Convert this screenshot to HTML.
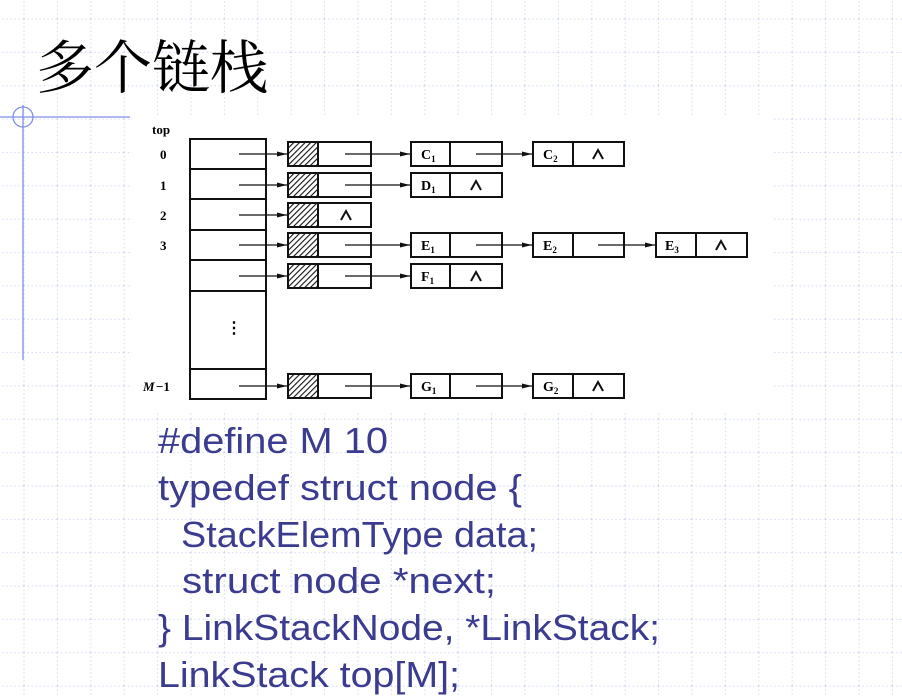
<!DOCTYPE html>
<html><head><meta charset="utf-8"><style>
html,body{margin:0;padding:0;background:#fff;}
svg{display:block;}
</style></head><body>
<svg width="902" height="696" viewBox="0 0 902 696" xmlns="http://www.w3.org/2000/svg">
<defs>
<pattern id="g" x="23.5" y="18.6" width="33.4" height="33.35" patternUnits="userSpaceOnUse">
<line x1="0.5" y1="0" x2="0.5" y2="33.35" stroke="#d3daf4" stroke-width="1" stroke-dasharray="1.5,2.5"/>
<line x1="0" y1="0.5" x2="33.4" y2="0.5" stroke="#d3daf4" stroke-width="1" stroke-dasharray="1.5,2.5"/>
</pattern>
<pattern id="h" width="4" height="4" patternUnits="userSpaceOnUse" patternTransform="rotate(45)">
<rect width="4" height="4" fill="#fff"/><line x1="0" y1="0" x2="0" y2="4" stroke="#111" stroke-width="2.2"/>
</pattern>
<marker id="a" markerWidth="10" markerHeight="6" refX="10" refY="3" orient="auto" markerUnits="userSpaceOnUse">
<path d="M0,0.5 L10,3 L0,5.5 Z" fill="#111"/>
</marker>
</defs>
<rect width="902" height="696" fill="url(#g)"/>
<rect x="132" y="116" width="640" height="296" fill="#fff"/>
<line x1="0" y1="117" x2="130" y2="117" stroke="#7f8fe6" stroke-width="1.3"/>
<line x1="23" y1="105" x2="23" y2="360" stroke="#7f8fe6" stroke-width="1.3"/>
<circle cx="23" cy="117" r="10" fill="none" stroke="#7f8fe6" stroke-width="1.3"/>
<text x="36" y="88" font-family="'Noto Serif CJK SC','Noto Sans CJK SC',serif" font-size="58" fill="#000">多个链栈</text>
<g font-family="'Liberation Serif',serif" font-size="13" fill="#000" font-weight="bold">
<text x="152" y="134">top</text>
<text x="160" y="159">0</text>
<text x="160" y="190">1</text>
<text x="160" y="220">2</text>
<text x="160" y="250">3</text>
<text x="143" y="391" font-style="italic">M</text><text x="156" y="391">−1</text>
</g>
<g fill="none" stroke="#111" stroke-width="2">
<rect x="190" y="139" width="76" height="260"/>
<line x1="190" y1="169" x2="266" y2="169"/>
<line x1="190" y1="199" x2="266" y2="199"/>
<line x1="190" y1="230" x2="266" y2="230"/>
<line x1="190" y1="260" x2="266" y2="260"/>
<line x1="190" y1="291" x2="266" y2="291"/>
<line x1="190" y1="369" x2="266" y2="369"/>
</g>
<text x="226" y="333" font-family="'Liberation Serif',serif" font-size="16" font-weight="bold" fill="#000">⋮</text>
<g stroke="#111" stroke-width="2">
<g id="hn"><rect x="288" y="142" width="30" height="24" fill="url(#h)"/><rect x="318" y="142" width="53" height="24" fill="#fff"/></g>
<use href="#hn" y="31"/><use href="#hn" y="61"/><use href="#hn" y="91"/><use href="#hn" y="122"/><use href="#hn" y="232"/>
</g>
<g fill="#fff" stroke="#111" stroke-width="2">
<rect x="411" y="142" width="91" height="24"/><line x1="450" y1="142" x2="450" y2="166"/>
<rect x="533" y="142" width="91" height="24"/><line x1="573" y1="142" x2="573" y2="166"/>
<rect x="411" y="173" width="91" height="24"/><line x1="450" y1="173" x2="450" y2="197"/>
<rect x="411" y="233" width="91" height="24"/><line x1="450" y1="233" x2="450" y2="257"/>
<rect x="533" y="233" width="91" height="24"/><line x1="573" y1="233" x2="573" y2="257"/>
<rect x="656" y="233" width="91" height="24"/><line x1="696" y1="233" x2="696" y2="257"/>
<rect x="411" y="264" width="91" height="24"/><line x1="450" y1="264" x2="450" y2="288"/>
<rect x="411" y="374" width="91" height="24"/><line x1="450" y1="374" x2="450" y2="398"/>
<rect x="533" y="374" width="91" height="24"/><line x1="573" y1="374" x2="573" y2="398"/>
</g>
<g stroke="#111" stroke-width="1.3" marker-end="url(#a)">
<line x1="239" y1="154" x2="287" y2="154"/><line x1="239" y1="185" x2="287" y2="185"/>
<line x1="239" y1="215" x2="287" y2="215"/><line x1="239" y1="245" x2="287" y2="245"/>
<line x1="239" y1="276" x2="287" y2="276"/><line x1="239" y1="386" x2="287" y2="386"/>
<line x1="345" y1="154" x2="410" y2="154"/><line x1="345" y1="185" x2="410" y2="185"/>
<line x1="345" y1="245" x2="410" y2="245"/><line x1="345" y1="276" x2="410" y2="276"/>
<line x1="345" y1="386" x2="410" y2="386"/>
<line x1="476" y1="154" x2="532" y2="154"/><line x1="476" y1="245" x2="532" y2="245"/>
<line x1="476" y1="386" x2="532" y2="386"/><line x1="598" y1="245" x2="655" y2="245"/>
</g>
<g font-family="'Liberation Serif',serif" font-size="14" fill="#000" font-weight="bold">
<text x="421" y="159">C<tspan font-size="9" dy="3">1</tspan></text>
<text x="543" y="159">C<tspan font-size="9" dy="3">2</tspan></text>
<text x="421" y="190">D<tspan font-size="9" dy="3">1</tspan></text>
<text x="421" y="250">E<tspan font-size="9" dy="3">1</tspan></text>
<text x="543" y="250">E<tspan font-size="9" dy="3">2</tspan></text>
<text x="665" y="250">E<tspan font-size="9" dy="3">3</tspan></text>
<text x="421" y="281">F<tspan font-size="9" dy="3">1</tspan></text>
<text x="421" y="391">G<tspan font-size="9" dy="3">1</tspan></text>
<text x="543" y="391">G<tspan font-size="9" dy="3">2</tspan></text>
</g>
<g fill="none" stroke="#111" stroke-width="2">
<path d="M593,159 L598,150 L603,159"/><path d="M471,190 L476,181 L481,190"/>
<path d="M341,220 L346,211 L351,220"/><path d="M716,250 L721,241 L726,250"/>
<path d="M471,281 L476,272 L481,281"/><path d="M593,391 L598,382 L603,391"/>
</g>
<g font-family="'Liberation Sans',sans-serif" font-size="36" fill="#3b3b8f">
<text x="158" y="453" textLength="230" lengthAdjust="spacingAndGlyphs">#define M 10</text>
<text x="158" y="500" textLength="364" lengthAdjust="spacingAndGlyphs">typedef struct node {</text>
<text x="181" y="547" textLength="357" lengthAdjust="spacingAndGlyphs">StackElemType data;</text>
<text x="182" y="593" textLength="314" lengthAdjust="spacingAndGlyphs">struct node *next;</text>
<text x="158" y="640" textLength="502" lengthAdjust="spacingAndGlyphs">} LinkStackNode, *LinkStack;</text>
<text x="158" y="687" textLength="302" lengthAdjust="spacingAndGlyphs">LinkStack top[M];</text>
</g>
</svg>
</body></html>
